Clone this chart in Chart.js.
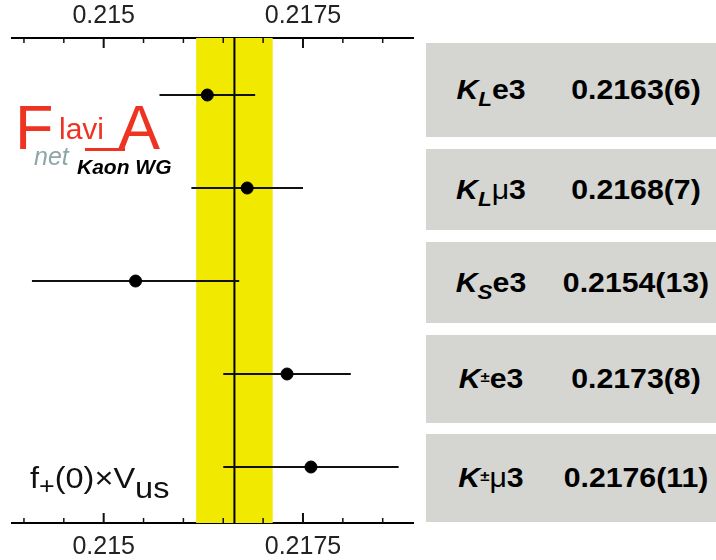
<!DOCTYPE html>
<html>
<head>
<meta charset="utf-8">
<script src="https://cdn.jsdelivr.net/npm/chart.js@4.4.1/dist/chart.umd.min.js"></script>
<style>
  body { margin: 0; background: #fff; font-family: "Liberation Sans", Arial, sans-serif; }
  #wrap { position: relative; width: 716px; height: 560px; overflow: hidden; }
  #chart { position: absolute; left: 0; top: 0; }
  .box { position: absolute; left: 426px; width: 290px; background: #d5d5d1; }
  .box > span { position: absolute; top: 50%; text-align: center; font-weight: bold; font-size: 27px;
                color: #000; transform: translateY(-50%) scaleX(1.12); white-space: nowrap; }
  .box .lab { left: 10px; width: 110px; }
  .box .val { left: 130px; width: 160px; }
  .lab i { font-style: italic; }
  .lab sub { font-size: 20px; font-style: italic; vertical-align: -7px; line-height: 0; }
  .lab sup { font-size: 15px; vertical-align: 6px; line-height: 0; }
  .lab .mu { font-weight: normal; }
  .logo { position: absolute; white-space: nowrap; line-height: 1; }
  #note { position: absolute; left: 30px; top: 462px; font-size: 29px; white-space: nowrap;
          transform: scaleX(1.12); transform-origin: left; color: #111; }
  #note sub { font-size: 29px; vertical-align: -10px; line-height: 0; }
  #note .plus { font-size: 24px; vertical-align: -6px; }
</style>
</head>
<body>
<div id="wrap">
  <canvas id="chart" width="420" height="560"></canvas>
  <div class="logo" style="left:15px;top:96px;font-size:63px;color:#ee3322;">F</div>
  <div class="logo" style="left:59px;top:114px;font-size:30px;color:#ee3322;">lavi</div>
  <div style="position:absolute;left:85px;top:148px;width:40px;height:3px;background:#ee3322;"></div>
  <div class="logo" style="left:118px;top:96px;font-size:63px;color:#ee3322;">A</div>
  <div class="logo" style="left:34px;top:144px;font-size:25px;font-style:italic;color:#8fa6a6;">net</div>
  <div class="logo" style="left:77px;top:156px;font-size:21px;font-style:italic;font-weight:bold;color:#000;">Kaon WG</div>
  <div id="note">f<span class="plus">+</span>(0)×V<sub>us</sub></div>
</div>
<script>
// measurements of f+(0) x Vus per channel
var categories = ['KLe3', 'KLμ3', 'KSe3', 'K±e3', 'K±μ3'];
var categoryHtml = [
    '<i>K</i><sub>L</sub>e3',
    '<i>K</i><sub>L</sub><span class="mu">μ</span>3',
    '<i>K</i><sub>S</sub>e3',
    '<i>K</i><sup>±</sup>e3',
    '<i>K</i><sup>±</sup><span class="mu">μ</span>3'
];
var centralValues = [0.2163, 0.2168, 0.2154, 0.2173, 0.2176];
var uncertainties = [0.0006, 0.0007, 0.0013, 0.0008, 0.0011];

// fit average (yellow band)
var averageValue = 0.21664;
var averageError = 0.00048;

// axis
var tickValues = [0.2140, 0.2145, 0.2150, 0.2155, 0.2160, 0.2165, 0.2170, 0.2175, 0.2180, 0.2185];
var majorTicks = [0.215, 0.2175];
var tickLabels = ['0.215', '0.2175'];

// gray label boxes on the right (top, bottom in px)
var boxRows = [[43, 137], [149, 230], [242, 323], [335, 423], [434, 522]];

var wrap = document.getElementById('wrap');
boxRows.forEach(function (r, i) {
    var d = document.createElement('div');
    d.className = 'box';
    d.style.top = r[0] + 'px';
    d.style.height = (r[1] - r[0]) + 'px';
    var txt = centralValues[i].toFixed(4) + '(' + Math.round(uncertainties[i] * 10000) + ')';
    d.innerHTML = '<span class="lab">' + categoryHtml[i] + '</span><span class="val">' + txt + '</span>';
    wrap.appendChild(d);
});

function majorIndex(v) {
    return majorTicks.findIndex(function (m) { return Math.abs(m - v) < 1e-7; });
}

var extras = {
    id: 'extras',
    beforeDatasetsDraw: function (chart) {
        var c = chart.ctx, a = chart.chartArea;
        var xs = chart.scales.x, ys = chart.scales.y;
        c.save();
        // average band and line
        var x1 = xs.getPixelForValue(averageValue - averageError);
        var x2 = xs.getPixelForValue(averageValue + averageError);
        c.fillStyle = '#f1e900';
        c.fillRect(x1, a.top, x2 - x1, a.bottom - a.top);
        c.strokeStyle = '#000';
        c.lineWidth = 2;
        var xm = xs.getPixelForValue(averageValue);
        c.beginPath();
        c.moveTo(xm, a.top);
        c.lineTo(xm, a.bottom);
        c.stroke();
        // error bars
        c.strokeStyle = '#111';
        c.lineWidth = 2;
        centralValues.forEach(function (v, i) {
            var y = ys.getPixelForValue(i);
            c.beginPath();
            c.moveTo(xs.getPixelForValue(v - uncertainties[i]), y);
            c.lineTo(xs.getPixelForValue(v + uncertainties[i]), y);
            c.stroke();
        });
        // inward ticks on top and bottom axes
        tickValues.forEach(function (v) {
            var x = xs.getPixelForValue(v);
            var len = majorIndex(v) >= 0 ? 10 : 5;
            c.lineWidth = majorIndex(v) >= 0 ? 2 : 1.5;
            c.beginPath();
            c.moveTo(x, a.top);
            c.lineTo(x, a.top + len);
            c.moveTo(x, a.bottom);
            c.lineTo(x, a.bottom - len);
            c.stroke();
        });
        c.restore();
    }
};

function axisOptions(pos, h, pad) {
    return {
        type: 'linear',
        position: pos,
        min: 0.21385,
        max: 0.21888,
        afterBuildTicks: function (s) {
            s.ticks = tickValues.map(function (v) { return { value: v }; });
        },
        afterFit: function (s) { s.height = h; },
        grid: { display: true, drawOnChartArea: false, drawTicks: false },
        border: { display: true, color: '#000', width: 2 },
        ticks: {
            autoSkip: false,
            maxRotation: 0,
            padding: pad,
            color: '#222',
            font: { family: 'Liberation Sans', size: 25 },
            callback: function (v) {
                var k = majorIndex(v);
                return k >= 0 ? tickLabels[k] : '';
            }
        }
    };
}

var ctx = document.getElementById('chart').getContext('2d');
var chart = new Chart(ctx, {
    type: 'scatter',
    data: {
        labels: categories,
        datasets: [{
            label: 'f+(0)Vus',
            data: centralValues.map(function (v, i) { return { x: v, y: i }; }),
            backgroundColor: '#000',
            borderColor: '#000',
            pointRadius: 6,
            xAxisID: 'x',
            yAxisID: 'y'
        }]
    },
    options: {
        responsive: false,
        devicePixelRatio: 1,
        animation: false,
        layout: { padding: { left: 12, right: 4, top: 0, bottom: 0 } },
        plugins: { legend: { display: false }, tooltip: { enabled: false } },
        scales: {
            x: axisOptions('top', 38, 7),
            x2: axisOptions('bottom', 37, 9),
            y: { type: 'linear', display: false, reverse: true, min: -0.613, max: 4.602 }
        }
    },
    plugins: [extras]
});
</script>
</body>
</html>
